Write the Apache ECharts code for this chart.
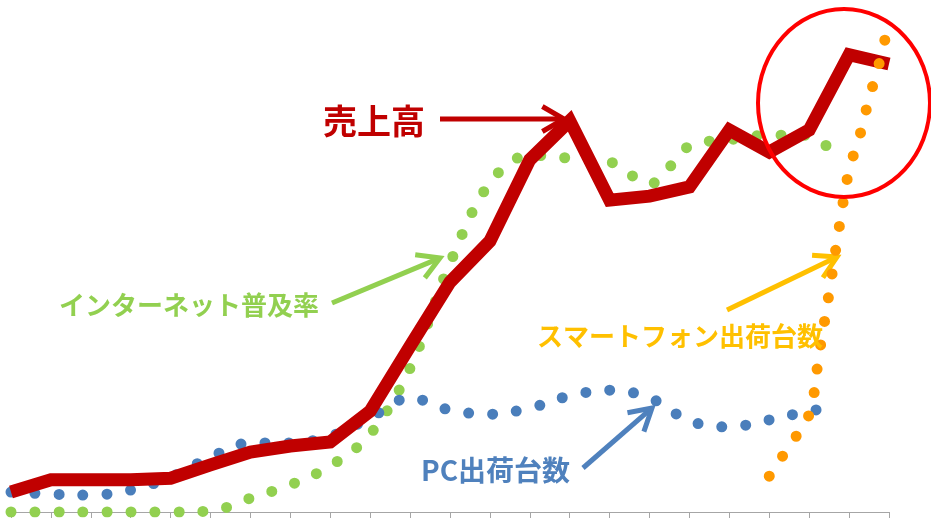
<!DOCTYPE html>
<html>
<head>
<meta charset="utf-8">
<script src="https://cdn.jsdelivr.net/npm/echarts@6/dist/echarts.min.js"></script>
<style>
  html, body { margin: 0; padding: 0; background: #fff; }
  #chart { width: 931px; height: 518px; }
</style>
</head>
<body>
<div id="chart"></div>
<script>
// 横軸は年の目盛り番号 (0..22)、縦軸は相対値 (0..100)
const salesX = [0, 1, 2, 3, 4, 5, 6, 7, 8, 9, 10, 11, 12, 13, 14, 15, 16, 17, 18, 19, 20, 21, 22];
const sales = [3.9, 6.3, 6.3, 6.3, 6.6, 9.2, 11.7, 12.9, 13.7, 19.7, 32.4, 44.9, 52.9, 68.8, 76.4, 60.9, 61.7, 63.5, 74.6, 70.3, 74.6, 89.3, 87.5];

const netX = [0, 1, 2, 3, 4, 5, 6, 7, 8, 9, 10, 11, 12, 13, 14, 15, 16, 17, 18, 19, 20, 20.55];
const internet = [0, 0, 0, 0, 0, 0.2, 2.7, 5.3, 9.0, 15.2, 28.1, 48.6, 64.3, 69.7, 69.1, 68.4, 64.1, 71.5, 72.7, 73.6, 73.6, 70.5];

const pcX = [0, 1, 2, 3, 4, 5, 6, 7, 8, 9, 10, 11, 12, 13, 14, 15, 16, 17, 18, 19, 20, 20.52];
const pc = [3.9, 3.5, 3.3, 4.3, 6.8, 10.7, 13.5, 13.5, 14.8, 18.4, 22.3, 19.9, 19.1, 20.3, 22.7, 23.8, 22.3, 17.8, 16.6, 18.0, 19.7, 20.3];

const phoneX = [19, 19.5, 20, 20.25, 20.5, 20.75, 21, 21.25, 21.5, 21.75, 22];
const phone = [7.0, 12.9, 19.1, 30.9, 42.8, 55.5, 66.8, 73.0, 80.7, 87.5, 95.7];

const zip = (xs, ys) => xs.map((x, i) => [x, ys[i]]);

// 矢印 (線 + 開いた矢じり)
function arrow(x1, y1, x2, y2, color) {
    const a = Math.atan2(y2 - y1, x2 - x1);
    const len = 25, spread = Math.PI / 6;
    const p1 = [x2 - len * Math.cos(a - spread), y2 - len * Math.sin(a - spread)];
    const p2 = [x2 - len * Math.cos(a + spread), y2 - len * Math.sin(a + spread)];
    return {
        type: 'group',
        z: 100,
        children: [
            { type: 'line', shape: { x1: x1, y1: y1, x2: x2 - 3 * Math.cos(a), y2: y2 - 3 * Math.sin(a) },
              style: { stroke: color, lineWidth: 5 } },
            { type: 'polyline', shape: { points: [p1, [x2, y2], p2] },
              style: { stroke: color, lineWidth: 5, fill: null, lineJoin: 'miter' } }
        ]
    };
}

function label(text, x, y, size, color) {
    return {
        type: 'text', z: 100,
        style: {
            text: text, x: x, y: y, fill: color,
            font: 'bold ' + size + 'px "Noto Sans CJK JP"',
            verticalAlign: 'middle'
        }
    };
}

const dotted = (color) => ({ color: color, width: 11, type: [0, 24], cap: 'round' });

const chart = echarts.init(document.getElementById('chart'));
chart.setOption({
    animation: false,
    grid: { left: 11, right: 42, top: 0, bottom: 6 },
    xAxis: {
        type: 'value', min: 0, max: 22, interval: 1,
        axisLine: { lineStyle: { color: '#a6a6a6', width: 1 } },
        axisTick: { show: true, length: 6, lineStyle: { color: '#a6a6a6' } },
        axisLabel: { show: false },
        splitLine: { show: false }
    },
    yAxis: {
        type: 'value', min: 0, max: 100, show: false,
        splitLine: { show: false }
    },
    series: [
        { name: 'インターネット普及率', type: 'line', data: zip(netX, internet), smooth: 0.35,
          showSymbol: false, lineStyle: dotted('#92d050'), z: 2 },
        { name: 'PC出荷台数', type: 'line', data: zip(pcX, pc), smooth: 0.35,
          showSymbol: false, lineStyle: dotted('#4a7ebb'), z: 3 },
        { name: '売上高', type: 'line', data: zip(salesX, sales), smooth: false,
          showSymbol: false, lineStyle: { color: '#c00000', width: 13, join: 'miter' }, z: 4 },
        { name: 'スマートフォン出荷台数', type: 'line', data: zip(phoneX, phone), smooth: 0.35,
          showSymbol: false, lineStyle: dotted('#ff9900'), z: 5 }
    ],
    graphic: [
        label('売上高', 323, 121, 34, '#c00000'),
        arrow(440, 119, 564, 119, '#c00000'),
        label('インターネット普及率', 59, 305, 26, '#92d050'),
        arrow(332, 303, 440, 258, '#92d050'),
        label('スマートフォン出荷台数', 537, 336, 26, '#ffc000'),
        arrow(727, 310, 837, 257, '#ffc000'),
        label('PC出荷台数', 421, 470, 28, '#4f81bd'),
        arrow(583, 468, 652, 408, '#4f81bd'),
        { type: 'ellipse', z: 100, shape: { cx: 844, cy: 103, rx: 86, ry: 94 },
          style: { stroke: '#ff0000', lineWidth: 4, fill: null } }
    ]
});
</script>
</body>
</html>
